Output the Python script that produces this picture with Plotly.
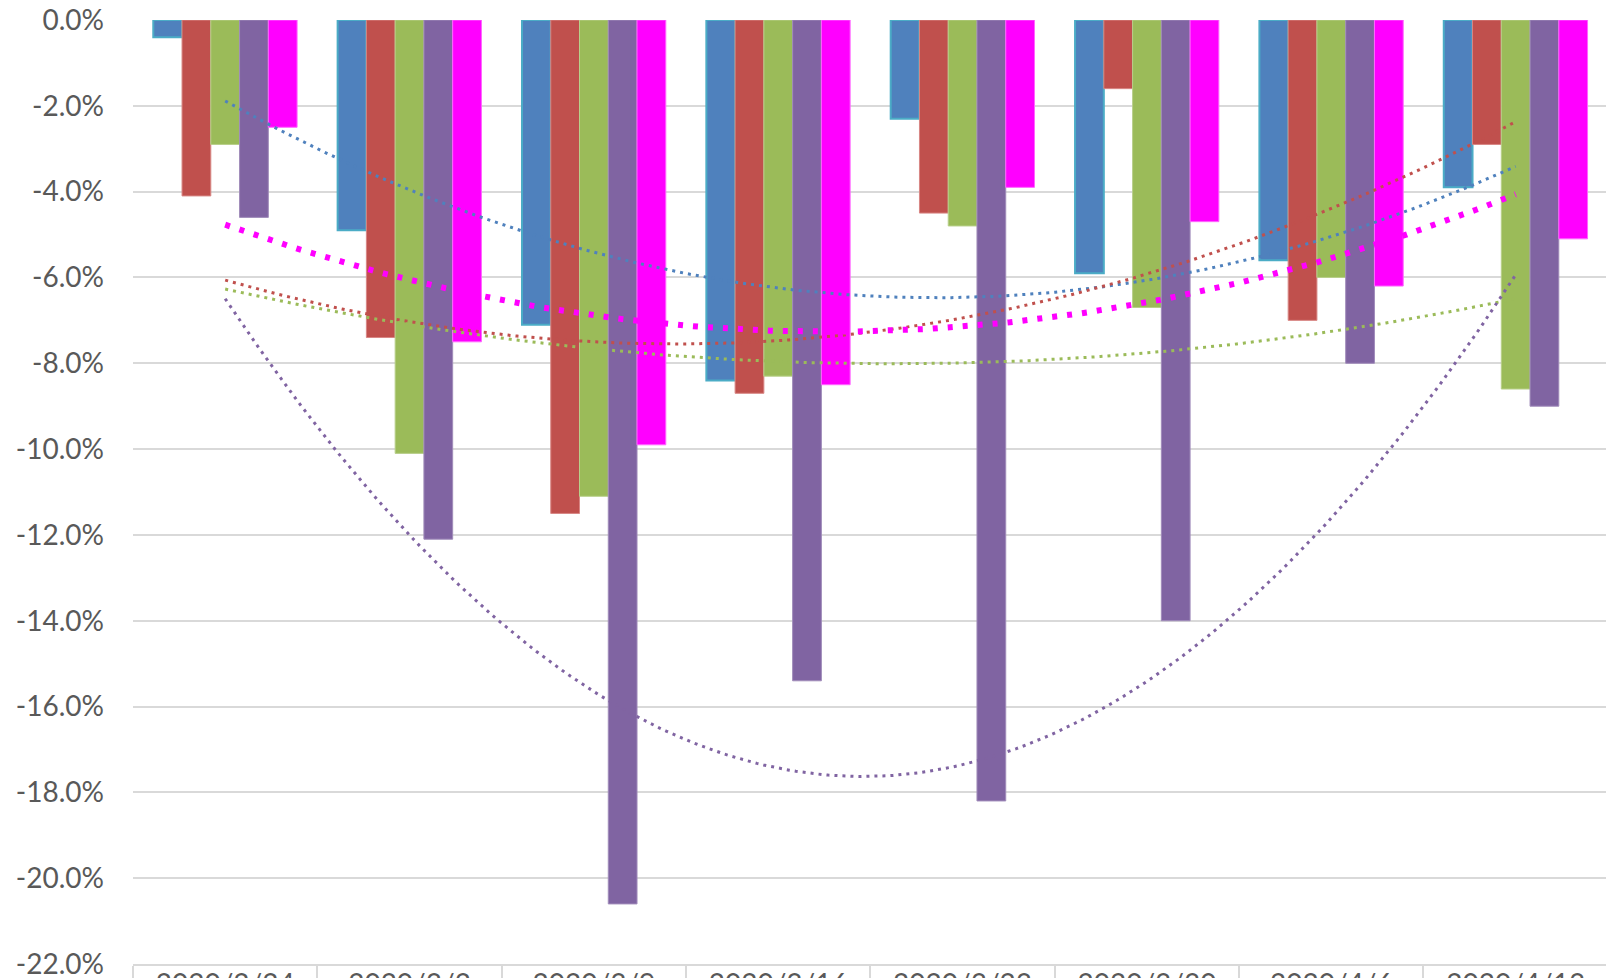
import numpy as np
import plotly.graph_objects as go

# Weekly periods (categories on the x axis)
periods = ["2020/2/24", "2020/3/2", "2020/3/9", "2020/3/16",
           "2020/3/23", "2020/3/30", "2020/4/6", "2020/4/13"]

# Percentage change per series
series_a = [-0.4, -4.9, -7.1, -8.4, -2.3, -5.9, -5.6, -3.9]
series_b = [-4.1, -7.4, -11.5, -8.7, -4.5, -1.6, -7.0, -2.9]
series_c = [-2.9, -10.1, -11.1, -8.3, -4.8, -6.7, -6.0, -8.6]
series_d = [-4.6, -12.1, -20.6, -15.4, -18.2, -14.0, -8.0, -9.0]
series_e = [-2.5, -7.5, -9.9, -8.5, -3.9, -4.7, -6.2, -5.1]

y_ticks = [0, -2, -4, -6, -8, -10, -12, -14, -16, -18, -20, -22]
y_tick_text = [f"{v:.1f}%" for v in y_ticks]

styles = [
    (series_a, "#4F81BD", "#4BACC6", 2.0),
    (series_b, "#C0504D", "#D88684", 1.0),
    (series_c, "#9BBB59", "#B8CF8A", 1.0),
    (series_d, "#8064A2", "#A08CBA", 1.0),
    (series_e, "#FF00FF", "#FF66FF", 1.0),
]

x = np.arange(len(periods))
fig = go.Figure()

for vals, fill, edge, lw in styles:
    fig.add_trace(go.Bar(
        x=x, y=vals, marker=dict(color=fill, line=dict(color=edge, width=lw)),
        showlegend=False,
    ))

# Second-order polynomial trendlines through each series
xs = np.linspace(0, len(periods) - 1, 200)
for i, (vals, fill, edge, lw) in enumerate(styles):
    coef = np.polyfit(x, vals, 2)
    ys = np.polyval(coef, xs)
    if i == 4:
        line = dict(color=fill, width=6, dash="5px,10px")
    else:
        line = dict(color=fill, width=3, dash="3px,5px")
    fig.add_trace(go.Scatter(x=xs, y=ys, mode="lines", line=line,
                             showlegend=False, hoverinfo="skip"))

fig.update_layout(
    width=1606, height=978,
    margin=dict(l=133, r=0, t=20, b=14),
    paper_bgcolor="white", plot_bgcolor="white",
    barmode="group", bargap=0.22, bargroupgap=0,
    font=dict(family="Lato", size=28, color="#595959"),
)

fig.update_xaxes(
    range=[-0.5, 7.49], tickvals=list(x), ticktext=periods,
    ticks="", showgrid=False, zeroline=False,
    showline=True, linecolor="#D9D9D9", linewidth=1.5,
    minor=dict(tickvals=[v - 0.5 for v in range(len(periods) + 1)],
               ticks="outside", ticklen=16, tickcolor="#D9D9D9", tickwidth=1.5),
    ticklabelstandoff=-5,
    ticklabeloverflow="allow",
    automargin=False,
)
fig.update_yaxes(
    range=[-22, 0], tickvals=y_ticks, ticktext=y_tick_text,
    showgrid=True, gridcolor="#D9D9D9", gridwidth=1.5,
    zeroline=False, showline=False, ticks="",
    ticklabelstandoff=28,
    ticklabeloverflow="allow",
    automargin=False,
)

fig.write_html("out.html")
